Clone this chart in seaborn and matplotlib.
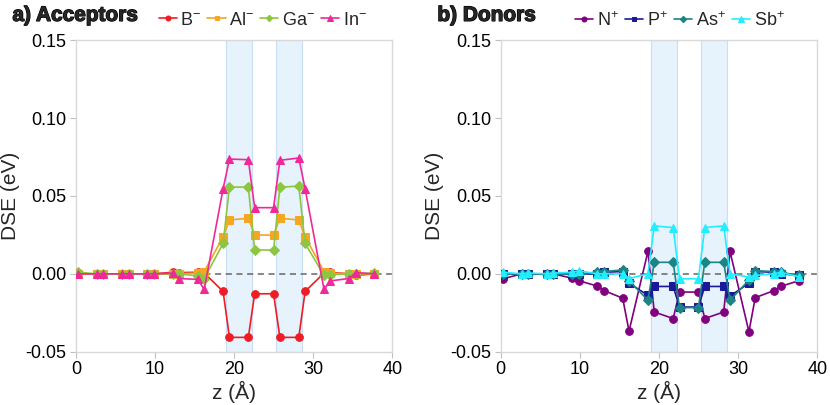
import matplotlib
matplotlib.use("Agg")
import matplotlib.pyplot as plt
import matplotlib.patheffects as pe
import seaborn as sns
import numpy as np
import pandas as pd
from matplotlib.ticker import FormatStrFormatter

# ---------------- data ----------------
z = [0.27, 2.65, 3.45, 5.84, 6.64, 9.03, 9.83, 12.22, 13.02, 15.41, 16.21, 18.60,
     19.40, 21.79, 22.59, 24.98, 25.78, 28.17, 28.97, 31.36, 32.16, 34.55, 35.35, 37.74]

acc_B = [0.0, 0.0, 0.0, 0.0, 0.0, 0.0, 0.0, 0.001, 0.0008, 0.001, 0.0005, -0.0113,
         -0.0408, -0.0408, -0.0128, -0.0128, -0.0408, -0.0408, -0.0113, 0.0005, 0.001, 0.0, -0.001, 0.0]
acc_Al = [0.0, 0.0, 0.0, 0.0, 0.0, 0.0, 0.0, 0.0, 0.0, 0.0005, 0.0015, 0.0238,
          0.0346, 0.0357, 0.0249, 0.0249, 0.0357, 0.0346, 0.0238, 0.0015, 0.0005, 0.0, 0.0, 0.0]
acc_Ga = [0.001, 0.0, 0.0, 0.0, 0.0, 0.0, 0.0, 0.0, 0.0, -0.0013, -0.003, 0.0195,
          0.0557, 0.0557, 0.0153, 0.0153, 0.0557, 0.0563, 0.0195, -0.001, -0.0005, 0.0, 0.0, 0.0005]
acc_In = [0.0, 0.0, 0.0, 0.0, 0.0, 0.0, 0.0, 0.0005, -0.003, -0.0036, -0.010, 0.0546,
          0.0737, 0.0733, 0.0425, 0.0425, 0.0729, 0.0744, 0.0546, -0.010, -0.0045, -0.003, 0.0008, 0.0]

don_N = [-0.0032, 0.0, 0.0, 0.0, 0.0, -0.0028, -0.0043, -0.0079, -0.0107, -0.0156, -0.0368, 0.0144,
         -0.0245, -0.0287, -0.0117, -0.0117, -0.0287, -0.0245, 0.0144, -0.0372, -0.0153, -0.0107, -0.0081, -0.0043]
don_P = [0.0, 0.0, 0.0, 0.0, 0.0, 0.0, 0.0, 0.0, 0.001, 0.0015, -0.006, -0.0138,
         -0.0081, -0.0081, -0.0213, -0.0213, -0.0081, -0.0081, -0.0143, -0.006, 0.0015, 0.001, 0.0, -0.001]
don_As = [0.0, 0.0, 0.0, 0.0, 0.0, 0.0, 0.0, 0.001, 0.0015, 0.0025, -0.0043, -0.017,
          0.0074, 0.0074, -0.0217, -0.0217, 0.0074, 0.0074, -0.017, -0.004, 0.002, 0.0015, 0.001, -0.001]
don_Sb = [0.001, 0.0, 0.0005, 0.0, 0.0005, 0.001, 0.002, 0.0, 0.0, 0.0, -0.003, 0.0,
          0.0308, 0.0297, -0.0032, -0.0032, 0.0297, 0.0308, 0.0, -0.002, -0.001, 0.0, 0.001, -0.002]

bands = [(19.0, 22.24), (25.3, 28.55)]

acc_labels = [r"$\mathregular{B^{-}}$", r"$\mathregular{Al^{-}}$", r"$\mathregular{Ga^{-}}$", r"$\mathregular{In^{-}}$"]
don_labels = [r"$\mathregular{N^{+}}$", r"$\mathregular{P^{+}}$", r"$\mathregular{As^{+}}$", r"$\mathregular{Sb^{+}}$"]
panel_titles = ["a) Acceptors", "b) Donors"]
x_ticks = [0, 10, 20, 30, 40]
y_ticks = [-0.05, 0.00, 0.05, 0.10, 0.15]

# ---------------- style ----------------
sns.set_theme(style="white")
plt.rcParams["font.family"] = ["Liberation Sans", "DejaVu Sans"]
plt.rcParams["mathtext.fontset"] = "custom"
plt.rcParams["mathtext.rm"] = "Liberation Sans"
plt.rcParams["axes.unicode_minus"] = False

acc_colors = ["#EE1C24", "#F5A623", "#8DC63F", "#F0289A"]
don_colors = ["#800080", "#1A1A99", "#1B8585", "#22EEFF"]
markers = ["o", "s", "D", "^"]
msizes = [5.5, 5.5, 5.0, 6.0]

fig = plt.figure(figsize=(8.30, 4.05), dpi=100)
ax_a = fig.add_axes([0.0916, 0.1316, 0.3811, 0.769])
ax_b = fig.add_axes([0.6033, 0.1316, 0.3814, 0.769])

panels = [
    (ax_a, [acc_B, acc_Al, acc_Ga, acc_In], acc_labels, acc_colors, 0.178, 0.950),
    (ax_b, [don_N, don_P, don_As, don_Sb], don_labels, don_colors, 0.680, 0.950),
]

for i, (ax, series, labels, colors, lx, ly) in enumerate(panels):
    for (b0, b1) in bands:
        ax.axvspan(b0, b1, facecolor="#E6F2FC", edgecolor="#C9DEF4", lw=0.8, zorder=0)
    ax.axhline(0, color="#666666", ls=(0, (4, 3)), lw=1.1, zorder=1.5)
    for vals, lab, col, mk, ms in zip(series, labels, colors, markers, msizes):
        sns.lineplot(x=z, y=vals, ax=ax, color=col, marker=mk, markersize=ms,
                     markeredgecolor=col, linewidth=1.2, label=lab, sort=False,
                     estimator=None, zorder=3)
    ax.set_xlim(0, 40)
    ax.set_ylim(-0.05, 0.15)
    ax.set_xticks(x_ticks)
    ax.set_yticks(y_ticks)
    ax.yaxis.set_major_formatter(FormatStrFormatter("%.2f"))
    ax.tick_params(axis="both", direction="out", length=4, width=0.8,
                   color="#BFBFBF", labelsize=13, labelcolor="black", pad=3,
                   left=True, bottom=True)
    for sp in ax.spines.values():
        sp.set_color("#D9D9D9")
        sp.set_linewidth(1.0)
        sp.set_visible(True)
    ax.set_xlabel("z (Å)", fontsize=15, labelpad=2)
    ax.set_ylabel("DSE (eV)", fontsize=15, labelpad=4)
    ax.legend(loc="center left", bbox_to_anchor=(lx, ly), bbox_transform=fig.transFigure,
              ncol=4, frameon=False, fontsize=13, handlelength=1.0, handletextpad=0.2,
              columnspacing=0.35, borderpad=0.1, markerscale=0.65)
    ax.set_facecolor("white")

stroke = [pe.withStroke(linewidth=0.9, foreground="black")]
fig.text(0.015, 0.962, panel_titles[0], fontsize=15, fontweight="bold", va="center",
         ha="left", path_effects=stroke)
fig.text(0.527, 0.962, panel_titles[1], fontsize=15, fontweight="bold", va="center",
         ha="left", path_effects=stroke)

fig.savefig("out.png", dpi=100)
